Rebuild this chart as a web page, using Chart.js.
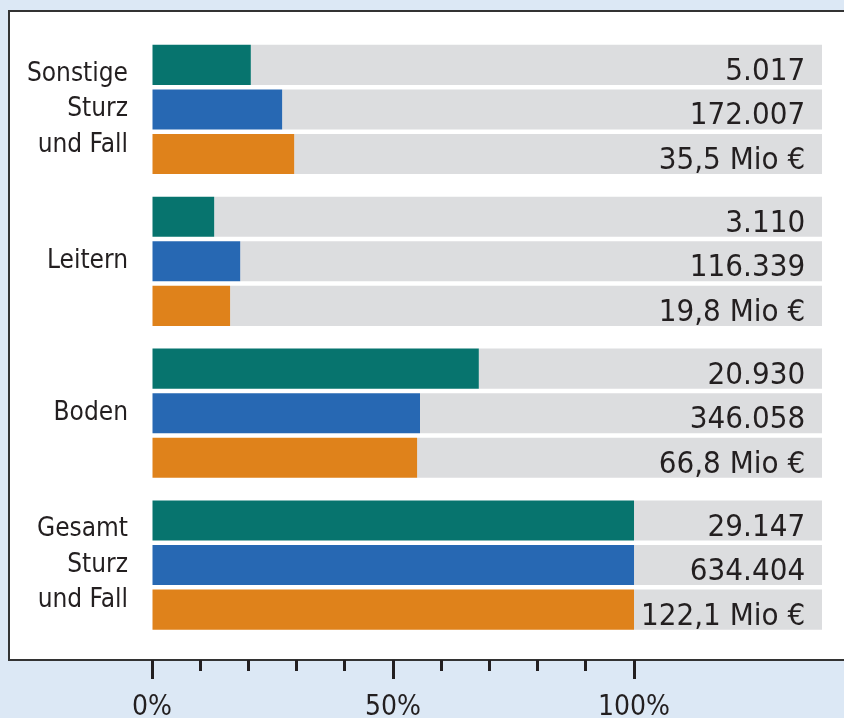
<!DOCTYPE html>
<html>
<head>
<meta charset="utf-8">
<script src="https://cdn.jsdelivr.net/npm/chart.js@4.4.1/dist/chart.umd.min.js"></script>
<style>
  body { margin: 0; background: #dce8f5; }
  #wrap { width: 844px; height: 718px; }
</style>
</head>
<body>
<div id="wrap"><canvas id="chart"></canvas></div>
<script>
const categories = [['Sonstige', 'Sturz', 'und Fall'], 'Leitern', 'Boden', ['Gesamt', 'Sturz', 'und Fall']];

// bar lengths in % of "Gesamt"
const casesShare = [20.5, 12.9, 67.8, 100];
const peopleShare = [27, 18.3, 55.6, 100];
const costShare = [29.5, 16.2, 55, 100];

const casesLabels = ['5.017', '3.110', '20.930', '29.147'];
const peopleLabels = ['172.007', '116.339', '346.058', '634.404'];
const costLabels = ['35,5 Mio €', '19,8 Mio €', '66,8 Mio €', '122,1 Mio €'];

const majorTicks = [0, 50, 100];
const majorTickLabels = ['0%', '50%', '100%'];
const minorTicks = [0, 10, 20, 30, 40, 50, 60, 70, 80, 90, 100];

const trackMax = 139;   // grey track runs past 100%
const labelAt = 135.5;  // right edge of the value text

const FONT = '"DejaVu Sans Condensed", Roboto, sans-serif';
const TEXT = '#231f20';
const GREY = '#dcdddf';

const series = [
  { data: casesShare, labels: casesLabels, color: '#07746e', stack: 'cases' },
  { data: peopleShare, labels: peopleLabels, color: '#2768b3', stack: 'people' },
  { data: costShare, labels: costLabels, color: '#df821b', stack: 'cost' }
];

const datasets = series.map(s => ({
  data: s.data, backgroundColor: s.color, stack: s.stack
})).concat(series.map(s => ({
  data: s.data.map(v => trackMax - v), backgroundColor: GREY, stack: s.stack
})));

// white panel with dark frame behind the plot
const panelPlugin = {
  id: 'panel',
  beforeDraw(chart) {
    const ctx = chart.ctx;
    ctx.save();
    ctx.fillStyle = '#dce8f5';
    ctx.fillRect(0, 0, chart.width, chart.height);
    ctx.fillStyle = '#ffffff';
    ctx.fillRect(9, 11, chart.width + 10, 649);
    ctx.strokeStyle = '#333333';
    ctx.lineWidth = 2;
    ctx.strokeRect(9, 11, chart.width + 10, 649);
    ctx.restore();
  }
};

// numbers at the right end of each grey track
const valueLabels = {
  id: 'valueLabels',
  afterDatasetsDraw(chart) {
    const ctx = chart.ctx;
    const x = chart.scales.x.getPixelForValue(labelAt);
    ctx.save();
    ctx.font = '31px ' + FONT;
    ctx.fillStyle = TEXT;
    ctx.textAlign = 'right';
    ctx.textBaseline = 'alphabetic';
    series.forEach((s, di) => {
      chart.getDatasetMeta(di).data.forEach((bar, i) => {
        ctx.fillText(s.labels[i], x, bar.y + 15);
      });
    });
    ctx.restore();
  }
};

// the axes sit below the panel, so they take no room in the layout
const noRoom = scale => { scale.height = 0; scale.paddingLeft = 0; scale.paddingRight = 0; };

new Chart(document.getElementById('chart'), {
  type: 'bar',
  data: { labels: categories, datasets: datasets },
  plugins: [panelPlugin, valueLabels],
  options: {
    indexAxis: 'y',
    responsive: true,
    maintainAspectRatio: false,
    animation: false,
    categoryPercentage: 0.88,
    barPercentage: 0.9,
    layout: { padding: { top: 33.5, bottom: 77, right: 22, left: 0 } },
    plugins: { legend: { display: false }, tooltip: { enabled: false } },
    scales: {
      y: {
        grid: { display: false, drawTicks: false },
        border: { display: false },
        afterFit(scale) {
          scale.width = 152;
          scale.paddingTop = 0;
          scale.paddingBottom = 0;
        },
        ticks: {
          color: TEXT,
          padding: 24,
          font: { family: FONT, size: 26, lineHeight: 1.36 }
        }
      },
      x: {
        min: 0,
        max: trackMax,
        position: { y: 3.625 },
        afterFit: noRoom,
        grid: { drawOnChartArea: false, tickLength: 19, tickWidth: 3, tickColor: TEXT },
        border: { display: false },
        afterBuildTicks(scale) { scale.ticks = majorTicks.map(v => ({ value: v })); },
        ticks: {
          color: TEXT,
          padding: 12,
          maxRotation: 0,
          font: { family: FONT, size: 28 },
          callback: (v, i) => majorTickLabels[i]
        }
      },
      xMinor: {
        axis: 'x',
        min: 0,
        max: trackMax,
        position: { y: 3.625 },
        afterFit: noRoom,
        grid: { drawOnChartArea: false, tickLength: 11, tickWidth: 3, tickColor: TEXT },
        border: { display: false },
        afterBuildTicks(scale) { scale.ticks = minorTicks.map(v => ({ value: v })); },
        ticks: { callback: () => '' }
      }
    }
  }
});
</script>
</body>
</html>
